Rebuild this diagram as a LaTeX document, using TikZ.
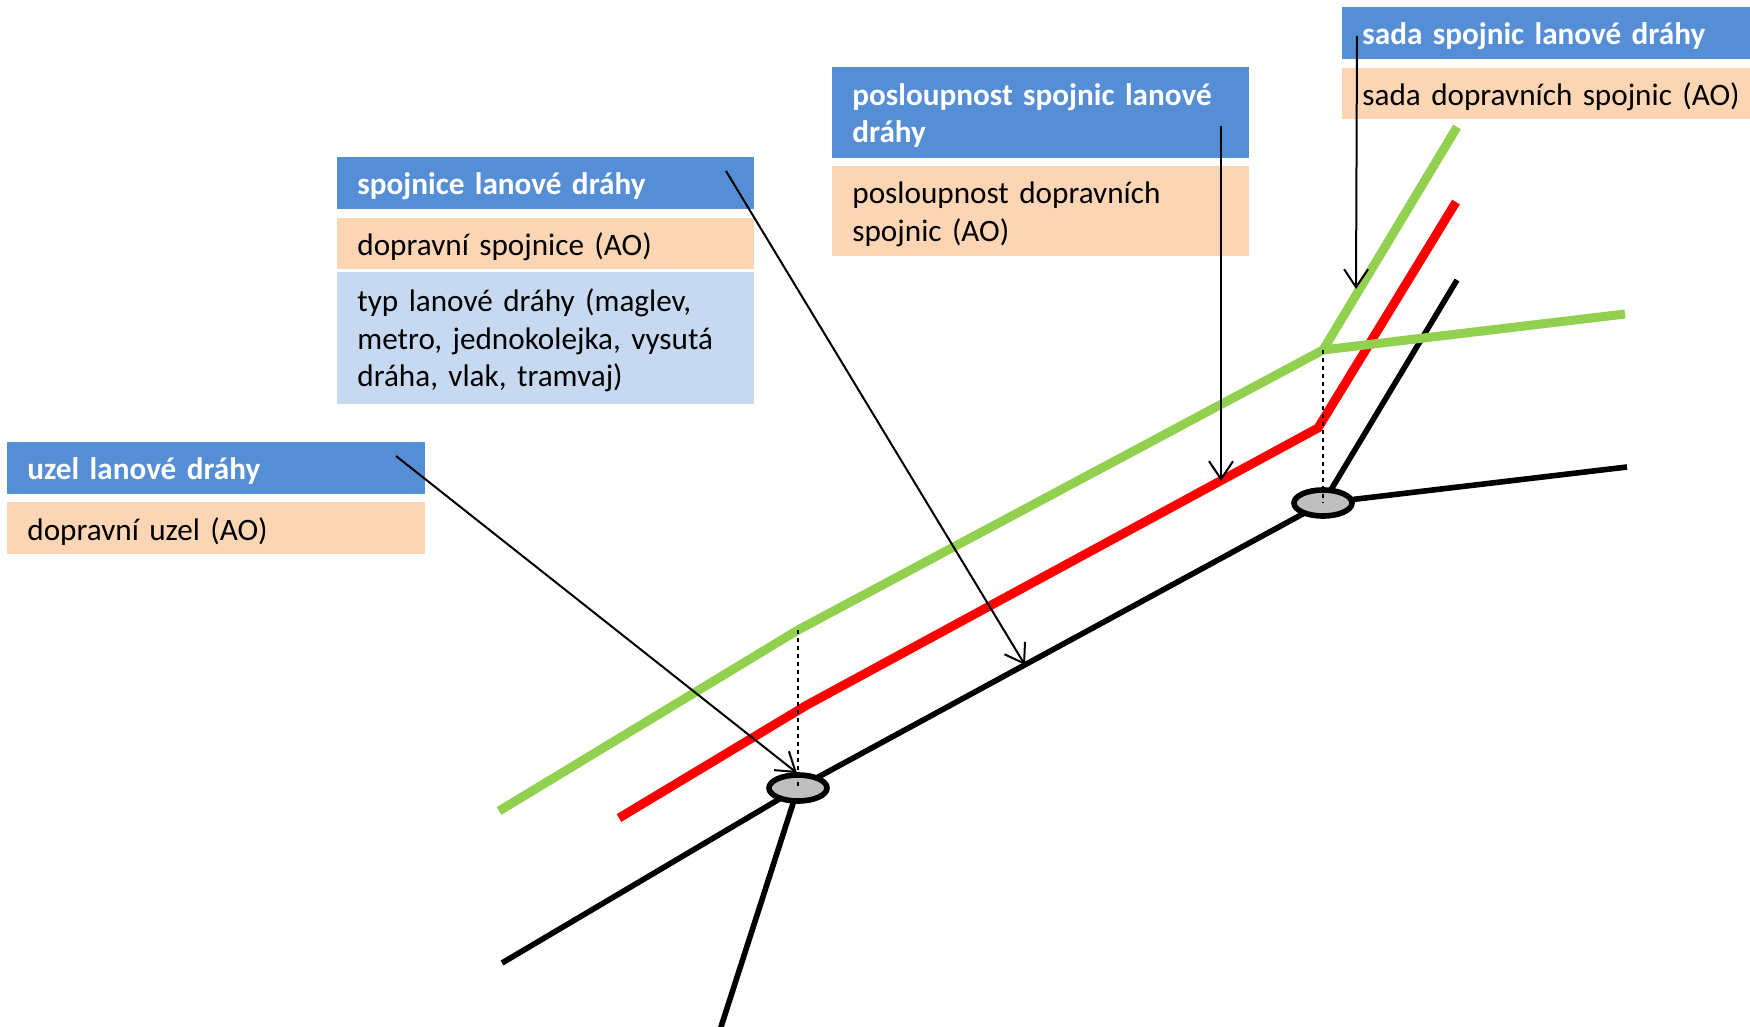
\documentclass[tikz,border=0pt]{standalone}
\usepackage{fontspec}
\setmainfont{Carlito}[WordSpace=0.9]
\usetikzlibrary{arrows.meta,shapes.geometric}
\definecolor{tblue}{RGB}{85,142,213}
\definecolor{torange}{RGB}{252,213,181}
\definecolor{tlight}{RGB}{198,217,241}
\definecolor{tgreen}{RGB}{146,208,80}
\definecolor{tgray}{RGB}{191,191,191}
\begin{document}
\begin{tikzpicture}[x=0.5pt,y=-0.5pt,
  box/.style 2 args={anchor=north west, inner sep=0pt, minimum width=#1, minimum height=#2},
  txt/.style={anchor=west, inner sep=0pt, align=left, text width=190pt,
     font=\fontsize{15.6}{18.6}\selectfont},
  titletxt/.style={txt, text=white, font=\fontsize{15.6}{18.6}\selectfont\bfseries},
  titlebox/.style={fill=tblue},
  aobox/.style={fill=torange},
  typbox/.style={fill=tlight},
  blackline/.style={line width=2.8pt, black},
  redline/.style={line width=4.5pt, red},
  greenline/.style={line width=4.5pt, tgreen},
  uzel/.style={ellipse, draw=black, fill=tgray, line width=2.8pt, minimum width=29pt, minimum height=13pt, inner sep=0pt},
  guide/.style={dashed, dash pattern=on 2pt off 2pt, line width=0.6pt},
  pointer/.style={line width=1pt, -{Straight Barb[length=9pt,width=12pt,line width=1pt]}}]
\useasboundingbox (0,0) rectangle (1750,1027);

% label boxes
\node[box={209pt}{26pt}, titlebox] (uT) at (7,442) {};
\node[box={209pt}{26pt}, aobox] (uA) at (7,502) {};
\node[box={208.5pt}{26pt}, titlebox] (sT) at (337,157) {};
\node[box={208.5pt}{25.5pt}, aobox] (sA) at (337,218) {};
\node[box={208.5pt}{66pt}, typbox] (sY) at (337,272) {};
\node[box={208.5pt}{45.5pt}, titlebox] (pT) at (832,67) {};
\node[box={208.5pt}{45pt}, aobox] (pA) at (832,166) {};
\node[box={204pt}{26pt}, titlebox] (qT) at (1342,7) {};
\node[box={204pt}{25.5pt}, aobox] (qA) at (1342,68) {};

% label texts
\node[titletxt] (uTt) at ([xshift=10pt,yshift=-1.5pt]uT.west) {uzel lanové dráhy};
\node[txt] (uAt) at ([xshift=10pt,yshift=-1.5pt]uA.west) {dopravní uzel (AO)};
\node[titletxt] (sTt) at ([xshift=10pt,yshift=-1.5pt]sT.west) {spojnice lanové dráhy};
\node[txt] (sAt) at ([xshift=10pt,yshift=-1.5pt]sA.west) {dopravní spojnice (AO)};
\node[txt] (sYt) at ([xshift=10pt,yshift=-1pt]sY.west) {typ lanové dráhy (maglev,\\metro, jednokolejka, vysutá\\dráha, vlak, tramvaj)};
\node[titletxt] (pTt) at ([xshift=10pt,yshift=-1.5pt]pT.west) {posloupnost spojnic lanové\\dráhy};
\node[txt] (pAt) at ([xshift=10pt,yshift=-1.5pt]pA.west) {posloupnost dopravních\\spojnic (AO)};
\node[titletxt] (qTt) at ([xshift=10pt,yshift=-1.5pt]qT.west) {sada spojnic lanové dráhy};
\node[txt] (qAt) at ([xshift=10pt,yshift=-1.5pt]qA.west) {sada dopravních spojnic (AO)};

% coordinates
\coordinate (g0) at (499,811);
\coordinate (g1) at (798,630);
\coordinate (g2) at (1323,350);
\coordinate (g3) at (1457,127);
\coordinate (g4) at (1625,314);
\coordinate (r0) at (619,818);
\coordinate (r1) at (807,705);
\coordinate (r2) at (1318,428);
\coordinate (r3) at (1456,202);
\coordinate (b0) at (502,963);
\coordinate (b1) at (720,1030);
\coordinate (b2) at (1457,280);
\coordinate (b3) at (1627,467);

% network nodes (positions)
\node[uzel, draw=none, fill=none] (n1) at (798,788) {};
\node[uzel, draw=none, fill=none] (n2) at (1323,503) {};

% black network
\draw[blackline] (b0) -- (n1.center);
\draw[blackline] (n1.center) -- (b1);
\draw[blackline] (n1.center) -- (n2.center);
\draw[blackline] (n2.center) -- (b2);
\draw[blackline] (n2.center) -- (b3);

% red sequence
\draw[redline] (r0) -- (r1) -- (r2) -- (r3);

% green set
\draw[greenline] (g0) -- (g1) -- (g2) -- (g3);
\draw[greenline] (g2) -- (g4);

% node ellipses
\node[uzel] (e1) at (n1) {};
\node[uzel] (e2) at (n2) {};

% guides
\draw[guide] (g1) -- (n1.center);
\draw[guide] (g2) -- (n2.center);

% pointers
\coordinate (a1) at (396,456);
\coordinate (a1e) at (797,773);
\coordinate (a2) at (726,171);
\coordinate (a2e) at (1025,665);
\coordinate (a3) at (1221,126);
\coordinate (a3e) at (1221,481);
\coordinate (a4) at (1357,36);
\coordinate (a4e) at (1356,289);
\draw[pointer] (a1) -- (a1e);
\draw[pointer] (a2) -- (a2e);
\draw[pointer] (a3) -- (a3e);
\draw[pointer] (a4) -- (a4e);
\end{tikzpicture}
\end{document}
